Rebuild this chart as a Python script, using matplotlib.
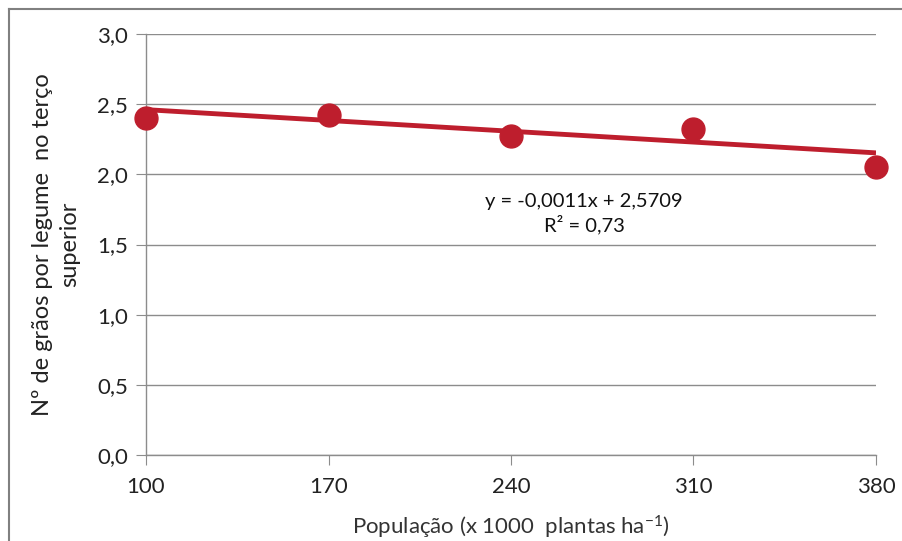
import matplotlib.pyplot as plt
from matplotlib.lines import Line2D

# fonte
plt.rcParams['font.family'] = ['Lato', 'DejaVu Sans']
plt.rcParams['mathtext.default'] = 'regular'

# dados
populacao = [100, 170, 240, 310, 380]
graos = [2.40, 2.42, 2.27, 2.32, 2.05]
slope = -0.0011
intercept = 2.5709
r2_label = "y = -0,0011x + 2,5709\nR² = 0,73"
y_ticks = [0.0, 0.5, 1.0, 1.5, 2.0, 2.5, 3.0]
y_tick_labels = ["0,0", "0,5", "1,0", "1,5", "2,0", "2,5", "3,0"]

red = "#BE1E2D"
grid_c = "#8C8C8C"

fig = plt.figure(figsize=(9.03, 5.41), dpi=100)
ax = fig.add_axes([146/903, 86/541, 730/903, 421/541])

# moldura externa (só esquerda e topo aparecem)
bx = 8.5 / 903
by = 1 - 8.5 / 541
fig.lines.append(Line2D([bx, bx], [0, by], transform=fig.transFigure,
                        color="#808080", linewidth=1.5))
fig.lines.append(Line2D([bx, 1], [by, by], transform=fig.transFigure,
                        color="#808080", linewidth=1.5))

# linha de tendência
trend_y = [slope * v + intercept for v in (populacao[0], populacao[-1])]
ax.plot([populacao[0], populacao[-1]], trend_y, color=red, linewidth=3.5,
        solid_capstyle="butt", zorder=3)

# pontos
ax.plot(populacao, graos, "o", color=red, markersize=16.5, clip_on=False, zorder=4)

ax.set_xlim(100, 380)
ax.set_ylim(0, 3)
ax.set_xticks(populacao)
ax.set_xticklabels([str(v) for v in populacao])
ax.set_yticks(y_ticks)
ax.set_yticklabels(y_tick_labels)

ax.grid(True, axis="y", color=grid_c, linewidth=1)
ax.set_axisbelow(True)
for s in ["top", "right"]:
    ax.spines[s].set_visible(False)
for s in ["left", "bottom"]:
    ax.spines[s].set_color(grid_c)
    ax.spines[s].set_linewidth(1)

ax.tick_params(axis="both", colors=grid_c, labelcolor="#222222",
               labelsize=16, length=7)
ax.tick_params(axis="x", pad=9)
ax.tick_params(axis="y", pad=6)

ax.text(268, 1.72, r2_label, ha="center", va="center", fontsize=14.5,
        color="#111111", linespacing=1.3)

ax.set_xlabel("População (x 1000  plantas ha$^{-1}$)", fontsize=16,
              color="#333333", labelpad=12)
ax.set_ylabel("Nº de grãos por legume  no terço\nsuperior", fontsize=17,
              color="#222222", labelpad=12, linespacing=1.4)

plt.savefig("out.png", dpi=100)
